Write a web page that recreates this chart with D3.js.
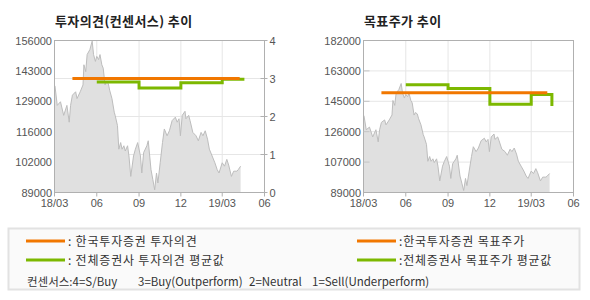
<!DOCTYPE html>
<html>
<head>
<meta charset="utf-8">
<script src="https://cdn.jsdelivr.net/npm/d3@7"></script>
<style>
	body { margin: 0; background: #fff; }
	text { font-family: "Liberation Sans", Arial, sans-serif; }
	.ko { font-family: "Noto Sans CJK KR", "Noto Sans", sans-serif; }
</style>
</head>
<body>
<script>
// 주가 (both panels use the same price series)
const priceDates = [
	"2018-03-02","2018-03-07","2018-03-14","2018-03-21","2018-03-28","2018-04-02","2018-04-05","2018-04-09",
	"2018-04-16","2018-04-19","2018-04-26","2018-05-02","2018-05-04","2018-05-08","2018-05-11","2018-05-17",
	"2018-05-22","2018-05-25","2018-05-29","2018-06-01","2018-06-05","2018-06-08","2018-06-12","2018-06-15",
	"2018-06-19","2018-06-22","2018-06-26","2018-06-29","2018-07-04","2018-07-09","2018-07-11","2018-07-16",
	"2018-07-19","2018-07-23","2018-07-26","2018-07-30","2018-08-02","2018-08-07","2018-08-10","2018-08-14",
	"2018-08-20","2018-08-24","2018-08-29","2018-09-04","2018-09-07","2018-09-11","2018-09-18","2018-09-21",
	"2018-09-27","2018-10-01","2018-10-05","2018-10-09","2018-10-12","2018-10-17","2018-10-22","2018-10-26",
	"2018-11-01","2018-11-06","2018-11-12","2018-11-19","2018-11-23","2018-11-27","2018-11-30","2018-12-04",
	"2018-12-10","2018-12-12","2018-12-18","2018-12-21","2018-12-27","2019-01-03","2019-01-08","2019-01-14",
	"2019-01-18","2019-01-23","2019-01-28","2019-02-01","2019-02-07","2019-02-13","2019-02-18","2019-02-22",
	"2019-03-01","2019-03-06","2019-03-11","2019-03-15","2019-03-21","2019-03-26","2019-04-02","2019-04-05",
	"2019-04-10"
];
const priceValues = [
	136000,127400,129000,123000,127400,120000,127400,131900,
	133400,130400,133400,136400,145300,142300,149800,152000,
	155700,149800,146800,149000,147600,149800,145300,143800,
	136400,137900,137100,134100,130400,124400,123000,118500,
	108100,111000,108100,109600,107300,109600,105100,96100,
	105100,108100,111000,105100,97600,106600,109600,111800,
	99100,94700,90200,97600,93200,102100,111000,117000,
	114000,116200,120700,122200,120000,121500,114000,123000,
	124800,121500,123000,120700,115500,114000,111800,115500,
	114000,116200,112500,108100,105100,102100,99100,97600,
	102100,100600,103600,101100,96100,98400,98400,99100,
	100600
];

// 투자의견
const opinionDates = ["2018-04-09", "2019-04-08"];
const opinionValues = [3, 3];
const opinionAvgDates = ["2018-06-01", "2018-09-01", "2018-12-01", "2019-03-01", "2019-04-15"];
const opinionAvgValues = [2.91, 2.75, 2.89, 2.98, 2.94];

// 목표주가
const targetDates = ["2018-04-09", "2019-04-05"];
const targetValues = [150000, 150000];
const targetAvgDates = ["2018-06-01", "2018-09-01", "2018-12-01", "2019-03-01", "2019-04-15"];
const targetAvgValues = [155000, 152700, 143000, 149000, 142000];

// axes
const xTickDates = ["2018-03-01", "2018-06-01", "2018-09-01", "2018-12-01", "2019-03-01", "2019-06-01"];
const xTickLabels = ["18/03", "06", "09", "12", "19/03", "06"];
const opinionPriceLabels = ["89000", "102000", "116000", "129000", "143000", "156000"];
const opinionTicks = [0, 1, 2, 3, 4];
const targetPriceLabels = ["89000", "107000", "126000", "145000", "163000", "182000"];

const legendLabels = [": 한국투자증권 투자의견", ": 전체증권사 투자의견 평균값", ":한국투자증권 목표주가", ":전체증권사 목표주가 평균값"];
const legendNotes = ["컨센서스:4=S/Buy", "3=Buy(Outperform)", "2=Neutral", "1=Sell(Underperform)"];

const ORANGE = '#f17700', GREEN = '#7cb800';
const parse = d3.timeParse('%Y-%m-%d');

const svg = d3.select('body').append('svg')
	.attr('width', 590)
	.attr('height', 300);

const panel = (opt) => {
	const top = 40.5, bottom = 192.5;
	const x = d3.scaleTime()
		.domain([parse(xTickDates[0]), parse(xTickDates[xTickDates.length - 1])])
		.range([opt.left + 0.5, opt.left + 210.5]);
	const yMin = +opt.priceLabels[0], yMax = +opt.priceLabels[opt.priceLabels.length - 1];
	const y = d3.scaleLinear().domain([yMin, yMax]).range([bottom, top]);
	const yTicks = d3.range(opt.priceLabels.length).map(i => yMin + i * (yMax - yMin) / (opt.priceLabels.length - 1));
	const g = svg.append('g');

	// title
	g.append('text')
		.attr('class', 'ko')
		.attr('x', opt.left + 1)
		.attr('y', 26)
		.attr('fill', '#222')
		.attr('font-size', 13)
		.attr('font-weight', 'bold')
		.attr('letter-spacing', 0.4)
		.text(opt.title);

	// grid
	const grid = g.append('g').attr('stroke', '#e6e6e6').attr('stroke-width', 1);
	grid.selectAll('.vg')
		.data(xTickDates.slice(1, -1))
		.enter().append('line')
		.attr('x1', d => x(parse(d))).attr('x2', d => x(parse(d)))
		.attr('y1', top).attr('y2', bottom);
	const gridY = opt.y2 ? opt.y2 : y;
	const gridVals = opt.y2 ? opinionTicks.slice(1, -1) : yTicks.slice(1, -1);
	grid.selectAll('.hg')
		.data(gridVals)
		.enter().append('line')
		.attr('x1', x.range()[0]).attr('x2', x.range()[1])
		.attr('y1', d => gridY(d)).attr('y2', d => gridY(d));

	// price area
	const prices = priceDates.map((d, i) => ({ date: parse(d), value: priceValues[i] }));
	g.append('path')
		.datum(prices)
		.attr('fill', '#e0e0e0')
		.attr('d', d3.area().x(d => x(d.date)).y0(bottom).y1(d => y(d.value)));
	g.append('path')
		.datum(prices)
		.attr('fill', 'none')
		.attr('stroke', '#bdbdbd')
		.attr('stroke-width', 1)
		.attr('d', d3.line().x(d => x(d.date)).y(d => y(d.value)));

	// frame + ticks
	g.append('rect')
		.attr('x', x.range()[0]).attr('y', top)
		.attr('width', 210).attr('height', bottom - top)
		.attr('fill', 'none')
		.attr('stroke', '#b0b0b0');
	g.selectAll('.xt')
		.data(xTickDates)
		.enter().append('line')
		.attr('x1', d => x(parse(d))).attr('x2', d => x(parse(d)))
		.attr('y1', bottom).attr('y2', bottom + 4)
		.attr('stroke', '#b0b0b0');
	g.selectAll('.xl')
		.data(xTickDates)
		.enter().append('text')
		.attr('x', (d) => x(parse(d)))
		.attr('y', 207)
		.attr('text-anchor', 'middle')
		.attr('font-size', 11)
		.attr('fill', '#555')
		.text((d, i) => xTickLabels[i]);

	// left axis labels
	g.selectAll('.yl')
		.data(yTicks)
		.enter().append('text')
		.attr('x', opt.left - 2)
		.attr('y', d => y(d) + 4)
		.attr('text-anchor', 'end')
		.attr('font-size', 11)
		.attr('fill', '#555')
		.text((d, i) => opt.priceLabels[i]);
	if (!opt.y2) {
		g.selectAll('.ys')
			.data(yTicks.slice(1, -1))
			.enter().append('line')
			.attr('x1', x.range()[0]).attr('x2', x.range()[0] + 6)
			.attr('y1', d => y(d)).attr('y2', d => y(d))
			.attr('stroke', '#c4c4c4');
	}

	// right axis (opinion)
	if (opt.y2) {
		g.selectAll('.rt')
			.data(opinionTicks)
			.enter().append('line')
			.attr('x1', x.range()[1] - 4).attr('x2', x.range()[1] + 3)
			.attr('y1', d => opt.y2(d)).attr('y2', d => opt.y2(d))
			.attr('stroke', '#b0b0b0');
		g.selectAll('.rl')
			.data(opinionTicks)
			.enter().append('text')
			.attr('x', x.range()[1] + 5)
			.attr('y', d => opt.y2(d) + 4)
			.attr('font-size', 11)
			.attr('fill', '#555')
			.text(d => d);
	}

	// company + average lines
	const ly = opt.y2 ? opt.y2 : y;
	const own = opt.ownDates.map((d, i) => ({ date: parse(d), value: opt.ownValues[i] }));
	const avg = opt.avgDates.map((d, i) => ({ date: parse(d), value: opt.avgValues[i] }));
	g.append('path')
		.datum(avg)
		.attr('fill', 'none')
		.attr('stroke', GREEN)
		.attr('stroke-width', 3)
		.attr('d', d3.line().curve(d3.curveStepAfter).x(d => x(d.date)).y(d => ly(d.value)));
	g.append('path')
		.datum(own)
		.attr('fill', 'none')
		.attr('stroke', ORANGE)
		.attr('stroke-width', 3)
		.attr('d', d3.line().x(d => x(d.date)).y(d => ly(d.value)));
};

panel({
	left: 54,
	title: '투자의견(컨센서스) 추이',
	priceLabels: opinionPriceLabels,
	y2: d3.scaleLinear().domain([0, 4]).range([192.5, 40.5]),
	ownDates: opinionDates, ownValues: opinionValues,
	avgDates: opinionAvgDates, avgValues: opinionAvgValues
});
panel({
	left: 363,
	title: '목표주가 추이',
	priceLabels: targetPriceLabels,
	ownDates: targetDates, ownValues: targetValues,
	avgDates: targetAvgDates, avgValues: targetAvgValues
});

// legend
const legend = svg.append('g');
legend.append('rect')
	.attr('x', 8.5).attr('y', 228.5)
	.attr('width', 571).attr('height', 61)
	.attr('fill', '#fafafa')
	.attr('stroke', '#e2e2e2')
	.attr('stroke-width', 2);
const itemPos = [[26, 241], [26, 260], [357, 241], [357, 260]];
const itemColors = [ORANGE, GREEN, ORANGE, GREEN];
legendLabels.forEach((label, i) => {
	const [lx, ly] = itemPos[i];
	legend.append('line')
		.attr('x1', lx).attr('x2', lx + 39)
		.attr('y1', ly).attr('y2', ly)
		.attr('stroke', itemColors[i])
		.attr('stroke-width', 3);
	legend.append('text')
		.attr('class', 'ko')
		.attr('x', lx + 42)
		.attr('y', ly + 5)
		.attr('font-size', 12)
		.attr('letter-spacing', 0.8)
		.attr('fill', '#333')
		.text(label);
});
const noteX = [27, 138, 249, 312];
legend.selectAll('.note')
	.data(legendNotes)
	.enter().append('text')
	.attr('class', 'ko')
	.attr('x', (d, i) => noteX[i])
	.attr('y', 286)
	.attr('font-size', 11.5)
	.attr('fill', '#333')
	.text(d => d);
</script>
</body>
</html>
